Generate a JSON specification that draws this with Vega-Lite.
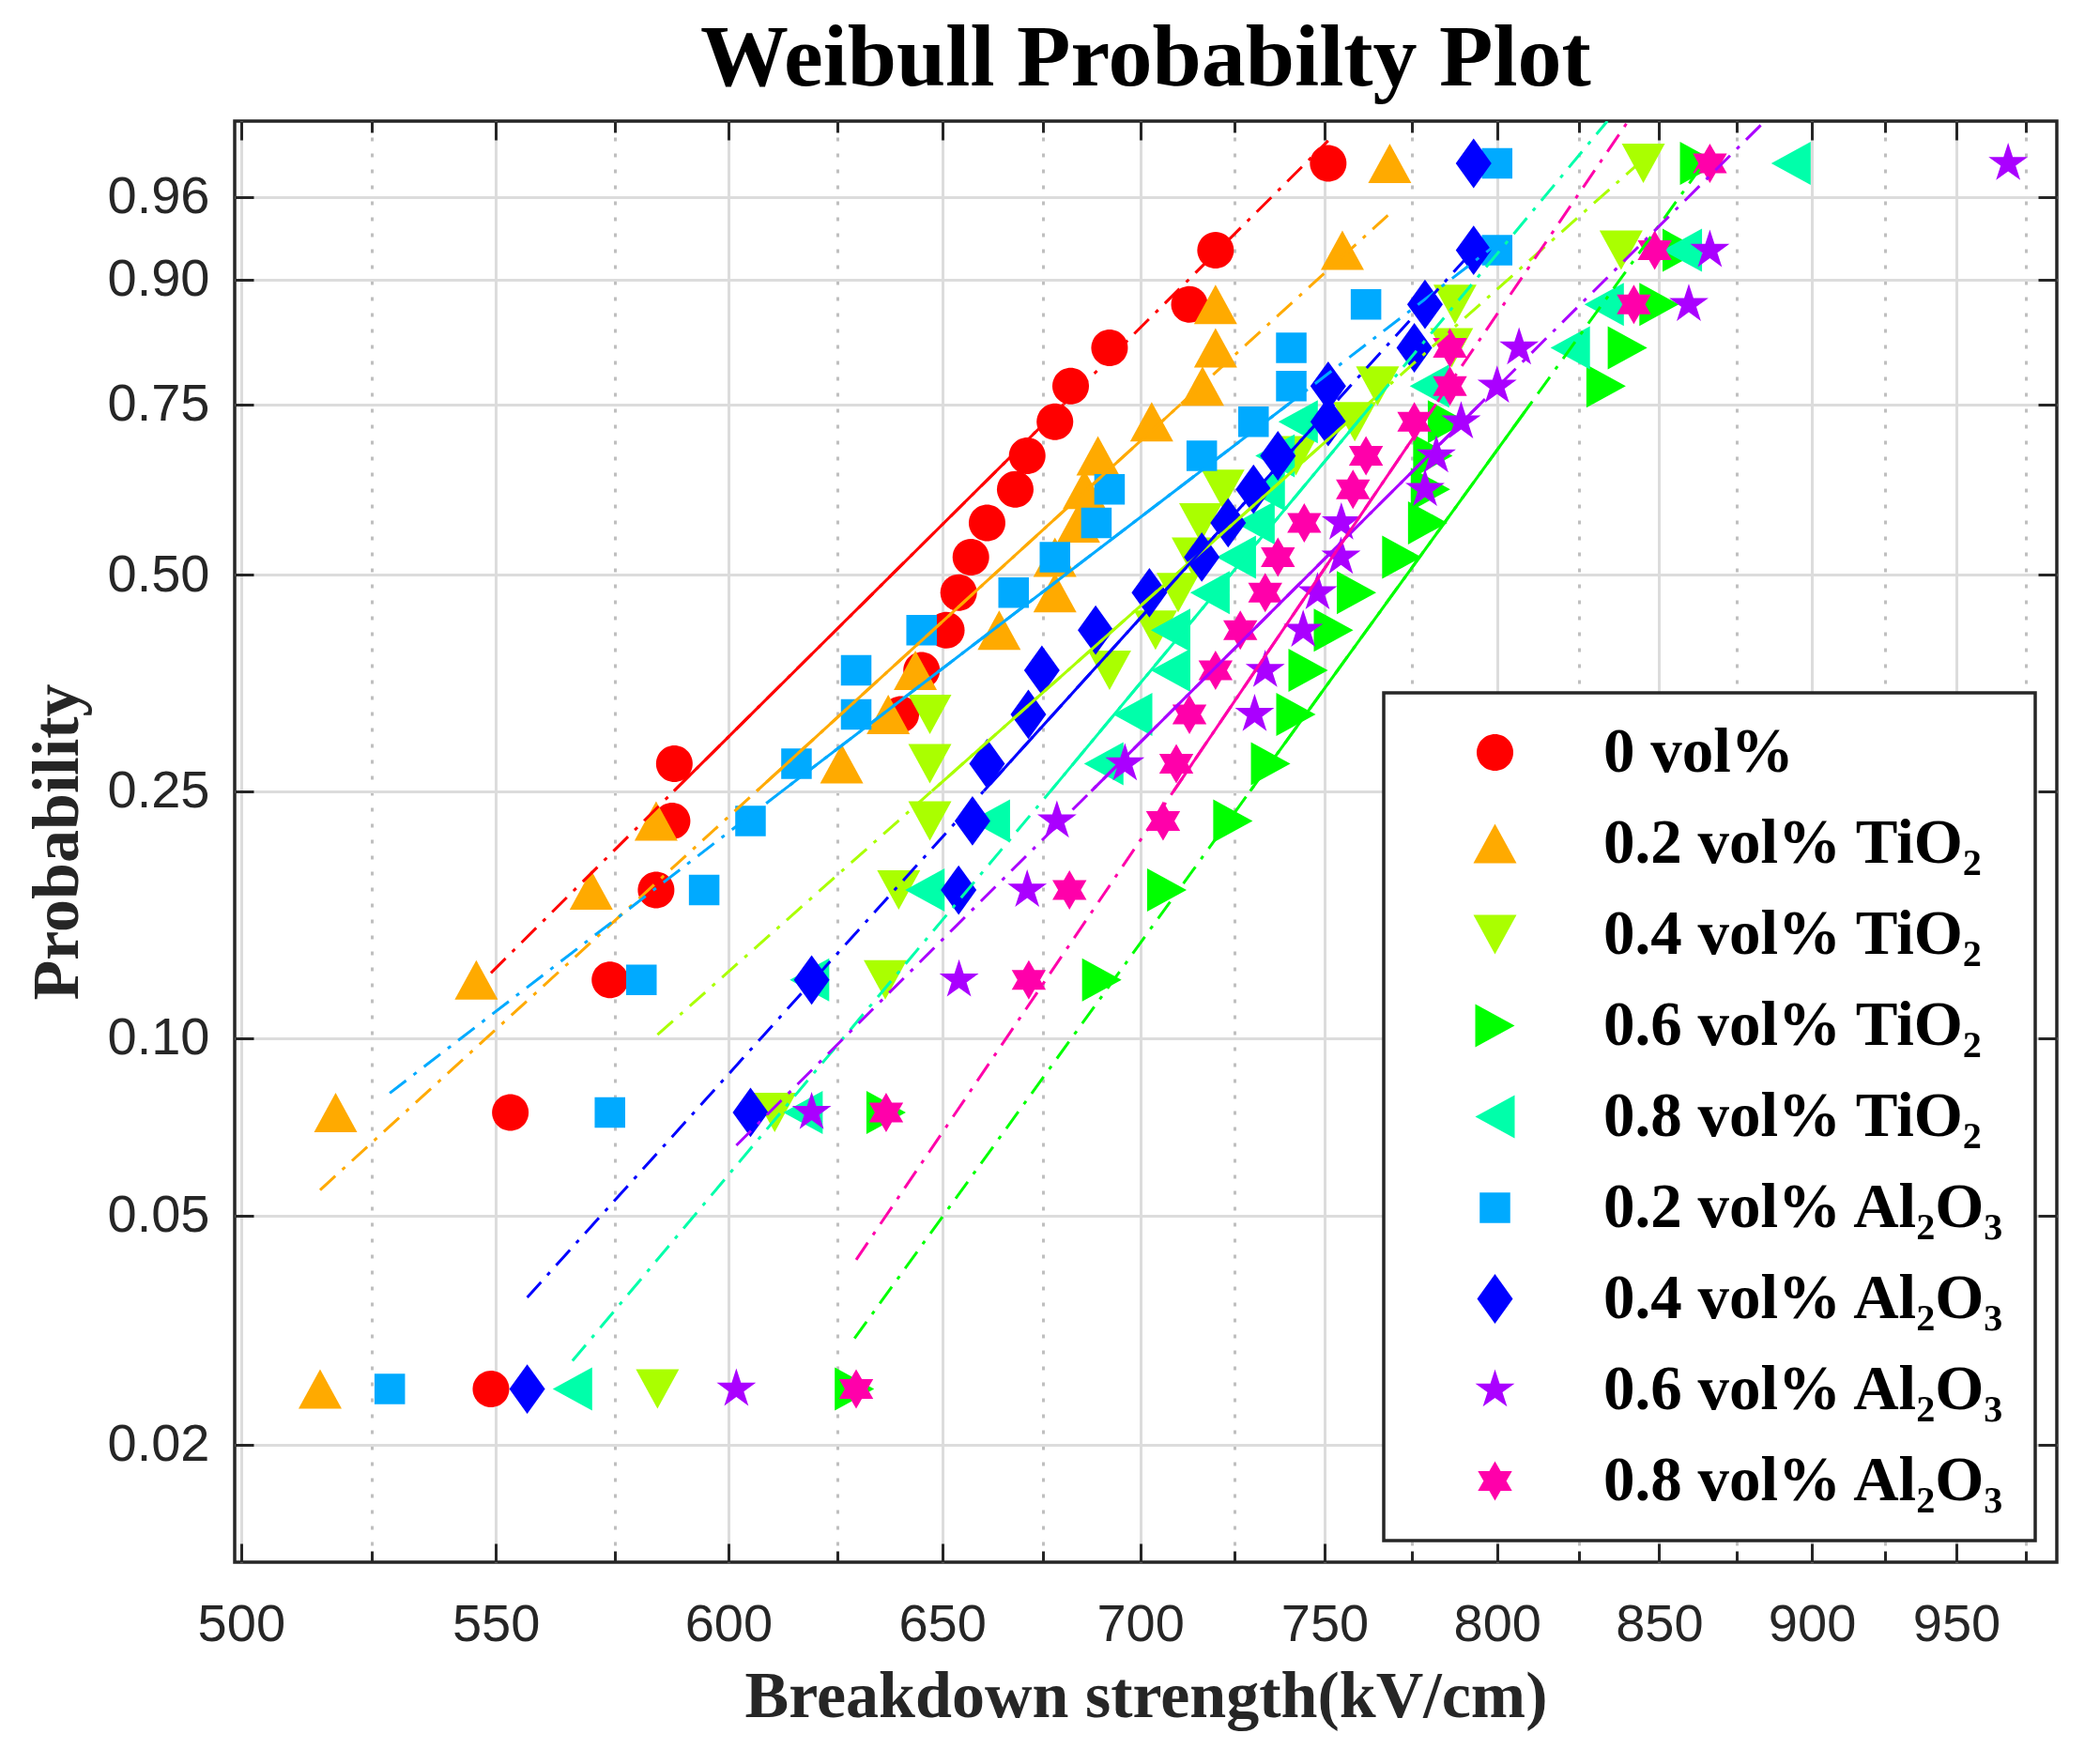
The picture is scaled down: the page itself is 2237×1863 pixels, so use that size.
{
  "$schema": "https://vega.github.io/schema/vega-lite/v6.json",
  "autosize": {"type": "none"},
  "padding": {"left": 250, "top": 129, "right": 46, "bottom": 199},
  "width": 1941,
  "height": 1535,
  "background": "white",
  "title": {
    "text": "Weibull Probabilty Plot",
    "font": "Liberation Serif",
    "fontSize": 94,
    "fontWeight": "bold",
    "color": "black",
    "anchor": "middle",
    "baseline": "alphabetic",
    "offset": 40,
    "dy": 97
  },
  "config": {
    "view": {"stroke": "#262626", "strokeWidth": 3.5},
    "legend": {
      "orient": "bottom-right",
      "offset": 23,
      "padding": 30,
      "strokeColor": "#262626",
      "strokeWidth": 3.5,
      "fillColor": "white",
      "cornerRadius": 0,
      "labelFont": "Liberation Serif",
      "labelFontSize": 67,
      "labelFontWeight": "bold",
      "labelColor": "black",
      "labelLimit": 0,
      "labelOffset": 82,
      "symbolOffset": 55,
      "rowPadding": 29,
      "symbolSize": 1936,
      "symbolStrokeWidth": 0
    }
  },
  "datasets": {
    "pts": [
      {"sample": "0 vol%", "kv": 549, "prob": 0.025},
      {"sample": "0 vol%", "kv": 553, "prob": 0.075},
      {"sample": "0 vol%", "kv": 574, "prob": 0.125},
      {"sample": "0 vol%", "kv": 584, "prob": 0.175},
      {"sample": "0 vol%", "kv": 587.5, "prob": 0.225},
      {"sample": "0 vol%", "kv": 588, "prob": 0.275},
      {"sample": "0 vol%", "kv": 640, "prob": 0.325},
      {"sample": "0 vol%", "kv": 645, "prob": 0.375},
      {"sample": "0 vol%", "kv": 651, "prob": 0.425},
      {"sample": "0 vol%", "kv": 654, "prob": 0.475},
      {"sample": "0 vol%", "kv": 657, "prob": 0.525},
      {"sample": "0 vol%", "kv": 661, "prob": 0.575},
      {"sample": "0 vol%", "kv": 668, "prob": 0.625},
      {"sample": "0 vol%", "kv": 671, "prob": 0.675},
      {"sample": "0 vol%", "kv": 678, "prob": 0.725},
      {"sample": "0 vol%", "kv": 682, "prob": 0.775},
      {"sample": "0 vol%", "kv": 692, "prob": 0.825},
      {"sample": "0 vol%", "kv": 713, "prob": 0.875},
      {"sample": "0 vol%", "kv": 720, "prob": 0.925},
      {"sample": "0 vol%", "kv": 751, "prob": 0.975},
      {"sample": "0.2 vol% TiO₂", "kv": 515, "prob": 0.025},
      {"sample": "0.2 vol% TiO₂", "kv": 518, "prob": 0.075},
      {"sample": "0.2 vol% TiO₂", "kv": 546, "prob": 0.125},
      {"sample": "0.2 vol% TiO₂", "kv": 570, "prob": 0.175},
      {"sample": "0.2 vol% TiO₂", "kv": 584, "prob": 0.225},
      {"sample": "0.2 vol% TiO₂", "kv": 626, "prob": 0.275},
      {"sample": "0.2 vol% TiO₂", "kv": 637, "prob": 0.325},
      {"sample": "0.2 vol% TiO₂", "kv": 643.5, "prob": 0.375},
      {"sample": "0.2 vol% TiO₂", "kv": 664, "prob": 0.425},
      {"sample": "0.2 vol% TiO₂", "kv": 678, "prob": 0.475},
      {"sample": "0.2 vol% TiO₂", "kv": 678, "prob": 0.525},
      {"sample": "0.2 vol% TiO₂", "kv": 684, "prob": 0.575},
      {"sample": "0.2 vol% TiO₂", "kv": 685.5, "prob": 0.625},
      {"sample": "0.2 vol% TiO₂", "kv": 689, "prob": 0.675},
      {"sample": "0.2 vol% TiO₂", "kv": 703, "prob": 0.725},
      {"sample": "0.2 vol% TiO₂", "kv": 716.5, "prob": 0.775},
      {"sample": "0.2 vol% TiO₂", "kv": 720, "prob": 0.825},
      {"sample": "0.2 vol% TiO₂", "kv": 720, "prob": 0.875},
      {"sample": "0.2 vol% TiO₂", "kv": 755, "prob": 0.925},
      {"sample": "0.2 vol% TiO₂", "kv": 768.5, "prob": 0.975},
      {"sample": "0.4 vol% TiO₂", "kv": 584.3, "prob": 0.025},
      {"sample": "0.4 vol% TiO₂", "kv": 610.5, "prob": 0.075},
      {"sample": "0.4 vol% TiO₂", "kv": 636.3, "prob": 0.125},
      {"sample": "0.4 vol% TiO₂", "kv": 639.5, "prob": 0.175},
      {"sample": "0.4 vol% TiO₂", "kv": 647, "prob": 0.225},
      {"sample": "0.4 vol% TiO₂", "kv": 647, "prob": 0.275},
      {"sample": "0.4 vol% TiO₂", "kv": 647, "prob": 0.325},
      {"sample": "0.4 vol% TiO₂", "kv": 692, "prob": 0.375},
      {"sample": "0.4 vol% TiO₂", "kv": 704, "prob": 0.425},
      {"sample": "0.4 vol% TiO₂", "kv": 710, "prob": 0.475},
      {"sample": "0.4 vol% TiO₂", "kv": 714, "prob": 0.525},
      {"sample": "0.4 vol% TiO₂", "kv": 716, "prob": 0.575},
      {"sample": "0.4 vol% TiO₂", "kv": 722, "prob": 0.625},
      {"sample": "0.4 vol% TiO₂", "kv": 742, "prob": 0.675},
      {"sample": "0.4 vol% TiO₂", "kv": 758.5, "prob": 0.725},
      {"sample": "0.4 vol% TiO₂", "kv": 765, "prob": 0.775},
      {"sample": "0.4 vol% TiO₂", "kv": 786.5, "prob": 0.825},
      {"sample": "0.4 vol% TiO₂", "kv": 787.5, "prob": 0.875},
      {"sample": "0.4 vol% TiO₂", "kv": 838, "prob": 0.925},
      {"sample": "0.4 vol% TiO₂", "kv": 845, "prob": 0.975},
      {"sample": "0.6 vol% TiO₂", "kv": 629, "prob": 0.025},
      {"sample": "0.6 vol% TiO₂", "kv": 636.5, "prob": 0.075},
      {"sample": "0.6 vol% TiO₂", "kv": 690, "prob": 0.125},
      {"sample": "0.6 vol% TiO₂", "kv": 707, "prob": 0.175},
      {"sample": "0.6 vol% TiO₂", "kv": 724.7, "prob": 0.225},
      {"sample": "0.6 vol% TiO₂", "kv": 735, "prob": 0.275},
      {"sample": "0.6 vol% TiO₂", "kv": 742, "prob": 0.325},
      {"sample": "0.6 vol% TiO₂", "kv": 745.4, "prob": 0.375},
      {"sample": "0.6 vol% TiO₂", "kv": 752.5, "prob": 0.425},
      {"sample": "0.6 vol% TiO₂", "kv": 759, "prob": 0.475},
      {"sample": "0.6 vol% TiO₂", "kv": 772, "prob": 0.525},
      {"sample": "0.6 vol% TiO₂", "kv": 779.5, "prob": 0.575},
      {"sample": "0.6 vol% TiO₂", "kv": 780.3, "prob": 0.625},
      {"sample": "0.6 vol% TiO₂", "kv": 781, "prob": 0.675},
      {"sample": "0.6 vol% TiO₂", "kv": 785.3, "prob": 0.725},
      {"sample": "0.6 vol% TiO₂", "kv": 833.3, "prob": 0.775},
      {"sample": "0.6 vol% TiO₂", "kv": 840, "prob": 0.825},
      {"sample": "0.6 vol% TiO₂", "kv": 850, "prob": 0.875},
      {"sample": "0.6 vol% TiO₂", "kv": 857.4, "prob": 0.925},
      {"sample": "0.6 vol% TiO₂", "kv": 863, "prob": 0.975},
      {"sample": "0.8 vol% TiO₂", "kv": 566, "prob": 0.025},
      {"sample": "0.8 vol% TiO₂", "kv": 617, "prob": 0.075},
      {"sample": "0.8 vol% TiO₂", "kv": 618.5, "prob": 0.125},
      {"sample": "0.8 vol% TiO₂", "kv": 645.8, "prob": 0.175},
      {"sample": "0.8 vol% TiO₂", "kv": 661.8, "prob": 0.225},
      {"sample": "0.8 vol% TiO₂", "kv": 690.5, "prob": 0.275},
      {"sample": "0.8 vol% TiO₂", "kv": 698, "prob": 0.325},
      {"sample": "0.8 vol% TiO₂", "kv": 708, "prob": 0.375},
      {"sample": "0.8 vol% TiO₂", "kv": 708, "prob": 0.425},
      {"sample": "0.8 vol% TiO₂", "kv": 718.5, "prob": 0.475},
      {"sample": "0.8 vol% TiO₂", "kv": 725.6, "prob": 0.525},
      {"sample": "0.8 vol% TiO₂", "kv": 730.7, "prob": 0.575},
      {"sample": "0.8 vol% TiO₂", "kv": 733.5, "prob": 0.625},
      {"sample": "0.8 vol% TiO₂", "kv": 736.2, "prob": 0.675},
      {"sample": "0.8 vol% TiO₂", "kv": 742.6, "prob": 0.725},
      {"sample": "0.8 vol% TiO₂", "kv": 780, "prob": 0.775},
      {"sample": "0.8 vol% TiO₂", "kv": 822.2, "prob": 0.825},
      {"sample": "0.8 vol% TiO₂", "kv": 832.7, "prob": 0.875},
      {"sample": "0.8 vol% TiO₂", "kv": 857.4, "prob": 0.925},
      {"sample": "0.8 vol% TiO₂", "kv": 893, "prob": 0.975},
      {"sample": "0.2 vol% Al₂O₃", "kv": 528.6, "prob": 0.025},
      {"sample": "0.2 vol% Al₂O₃", "kv": 574, "prob": 0.075},
      {"sample": "0.2 vol% Al₂O₃", "kv": 580.8, "prob": 0.125},
      {"sample": "0.2 vol% Al₂O₃", "kv": 594.6, "prob": 0.175},
      {"sample": "0.2 vol% Al₂O₃", "kv": 605, "prob": 0.225},
      {"sample": "0.2 vol% Al₂O₃", "kv": 615.5, "prob": 0.275},
      {"sample": "0.2 vol% Al₂O₃", "kv": 629.4, "prob": 0.325},
      {"sample": "0.2 vol% Al₂O₃", "kv": 629.4, "prob": 0.375},
      {"sample": "0.2 vol% Al₂O₃", "kv": 645, "prob": 0.425},
      {"sample": "0.2 vol% Al₂O₃", "kv": 667.6, "prob": 0.475},
      {"sample": "0.2 vol% Al₂O₃", "kv": 678, "prob": 0.525},
      {"sample": "0.2 vol% Al₂O₃", "kv": 688.6, "prob": 0.575},
      {"sample": "0.2 vol% Al₂O₃", "kv": 692, "prob": 0.625},
      {"sample": "0.2 vol% Al₂O₃", "kv": 716.3, "prob": 0.675},
      {"sample": "0.2 vol% Al₂O₃", "kv": 730.3, "prob": 0.725},
      {"sample": "0.2 vol% Al₂O₃", "kv": 740.7, "prob": 0.775},
      {"sample": "0.2 vol% Al₂O₃", "kv": 740.7, "prob": 0.825},
      {"sample": "0.2 vol% Al₂O₃", "kv": 761.7, "prob": 0.875},
      {"sample": "0.2 vol% Al₂O₃", "kv": 800, "prob": 0.925},
      {"sample": "0.2 vol% Al₂O₃", "kv": 800, "prob": 0.975},
      {"sample": "0.4 vol% Al₂O₃", "kv": 556.5, "prob": 0.025},
      {"sample": "0.4 vol% Al₂O₃", "kv": 605, "prob": 0.075},
      {"sample": "0.4 vol% Al₂O₃", "kv": 619, "prob": 0.125},
      {"sample": "0.4 vol% Al₂O₃", "kv": 654, "prob": 0.175},
      {"sample": "0.4 vol% Al₂O₃", "kv": 657.4, "prob": 0.225},
      {"sample": "0.4 vol% Al₂O₃", "kv": 661, "prob": 0.275},
      {"sample": "0.4 vol% Al₂O₃", "kv": 671.3, "prob": 0.325},
      {"sample": "0.4 vol% Al₂O₃", "kv": 674.7, "prob": 0.375},
      {"sample": "0.4 vol% Al₂O₃", "kv": 688.4, "prob": 0.425},
      {"sample": "0.4 vol% Al₂O₃", "kv": 702.4, "prob": 0.475},
      {"sample": "0.4 vol% Al₂O₃", "kv": 716.3, "prob": 0.525},
      {"sample": "0.4 vol% Al₂O₃", "kv": 723.4, "prob": 0.575},
      {"sample": "0.4 vol% Al₂O₃", "kv": 730.3, "prob": 0.625},
      {"sample": "0.4 vol% Al₂O₃", "kv": 737, "prob": 0.675},
      {"sample": "0.4 vol% Al₂O₃", "kv": 751, "prob": 0.725},
      {"sample": "0.4 vol% Al₂O₃", "kv": 751, "prob": 0.775},
      {"sample": "0.4 vol% Al₂O₃", "kv": 775.6, "prob": 0.825},
      {"sample": "0.4 vol% Al₂O₃", "kv": 778.7, "prob": 0.875},
      {"sample": "0.4 vol% Al₂O₃", "kv": 793, "prob": 0.925},
      {"sample": "0.4 vol% Al₂O₃", "kv": 793, "prob": 0.975},
      {"sample": "0.6 vol% Al₂O₃", "kv": 601.8, "prob": 0.025},
      {"sample": "0.6 vol% Al₂O₃", "kv": 619, "prob": 0.075},
      {"sample": "0.6 vol% Al₂O₃", "kv": 654.1, "prob": 0.125},
      {"sample": "0.6 vol% Al₂O₃", "kv": 671, "prob": 0.175},
      {"sample": "0.6 vol% Al₂O₃", "kv": 678.5, "prob": 0.225},
      {"sample": "0.6 vol% Al₂O₃", "kv": 696, "prob": 0.275},
      {"sample": "0.6 vol% Al₂O₃", "kv": 730.6, "prob": 0.325},
      {"sample": "0.6 vol% Al₂O₃", "kv": 733.5, "prob": 0.375},
      {"sample": "0.6 vol% Al₂O₃", "kv": 744, "prob": 0.425},
      {"sample": "0.6 vol% Al₂O₃", "kv": 748, "prob": 0.475},
      {"sample": "0.6 vol% Al₂O₃", "kv": 754.6, "prob": 0.525},
      {"sample": "0.6 vol% Al₂O₃", "kv": 754.7, "prob": 0.575},
      {"sample": "0.6 vol% Al₂O₃", "kv": 778.7, "prob": 0.625},
      {"sample": "0.6 vol% Al₂O₃", "kv": 782, "prob": 0.675},
      {"sample": "0.6 vol% Al₂O₃", "kv": 789.3, "prob": 0.725},
      {"sample": "0.6 vol% Al₂O₃", "kv": 800, "prob": 0.775},
      {"sample": "0.6 vol% Al₂O₃", "kv": 806.6, "prob": 0.825},
      {"sample": "0.6 vol% Al₂O₃", "kv": 859.5, "prob": 0.875},
      {"sample": "0.6 vol% Al₂O₃", "kv": 866.3, "prob": 0.925},
      {"sample": "0.6 vol% Al₂O₃", "kv": 968.6, "prob": 0.975},
      {"sample": "0.8 vol% Al₂O₃", "kv": 629.4, "prob": 0.025},
      {"sample": "0.8 vol% Al₂O₃", "kv": 636.5, "prob": 0.075},
      {"sample": "0.8 vol% Al₂O₃", "kv": 671.4, "prob": 0.125},
      {"sample": "0.8 vol% Al₂O₃", "kv": 681.7, "prob": 0.175},
      {"sample": "0.8 vol% Al₂O₃", "kv": 706, "prob": 0.225},
      {"sample": "0.8 vol% Al₂O₃", "kv": 709.5, "prob": 0.275},
      {"sample": "0.8 vol% Al₂O₃", "kv": 713, "prob": 0.325},
      {"sample": "0.8 vol% Al₂O₃", "kv": 720, "prob": 0.375},
      {"sample": "0.8 vol% Al₂O₃", "kv": 726.7, "prob": 0.425},
      {"sample": "0.8 vol% Al₂O₃", "kv": 733.5, "prob": 0.475},
      {"sample": "0.8 vol% Al₂O₃", "kv": 737, "prob": 0.525},
      {"sample": "0.8 vol% Al₂O₃", "kv": 744.3, "prob": 0.575},
      {"sample": "0.8 vol% Al₂O₃", "kv": 758, "prob": 0.625},
      {"sample": "0.8 vol% Al₂O₃", "kv": 761.7, "prob": 0.675},
      {"sample": "0.8 vol% Al₂O₃", "kv": 775.6, "prob": 0.725},
      {"sample": "0.8 vol% Al₂O₃", "kv": 786, "prob": 0.775},
      {"sample": "0.8 vol% Al₂O₃", "kv": 786, "prob": 0.825},
      {"sample": "0.8 vol% Al₂O₃", "kv": 842, "prob": 0.875},
      {"sample": "0.8 vol% Al₂O₃", "kv": 848.6, "prob": 0.925},
      {"sample": "0.8 vol% Al₂O₃", "kv": 866.3, "prob": 0.975}
    ],
    "fit": [
      {"sample": "0 vol%", "part": "min", "kv": 549, "prob": 0.1286},
      {"sample": "0 vol%", "part": "q1", "kv": 587.9, "prob": 0.25},
      {"sample": "0 vol%", "part": "q3", "kv": 680.2, "prob": 0.75},
      {"sample": "0 vol%", "part": "max", "kv": 751, "prob": 0.9822},
      {"sample": "0.2 vol% TiO₂", "part": "min", "kv": 515, "prob": 0.0555},
      {"sample": "0.2 vol% TiO₂", "part": "q1", "kv": 606.4, "prob": 0.25},
      {"sample": "0.2 vol% TiO₂", "part": "q3", "kv": 710.7, "prob": 0.75},
      {"sample": "0.2 vol% TiO₂", "part": "max", "kv": 768.5, "prob": 0.9505},
      {"sample": "0.4 vol% TiO₂", "part": "min", "kv": 584.3, "prob": 0.1015},
      {"sample": "0.4 vol% TiO₂", "part": "q1", "kv": 647.5, "prob": 0.25},
      {"sample": "0.4 vol% TiO₂", "part": "q3", "kv": 762.2, "prob": 0.75},
      {"sample": "0.4 vol% TiO₂", "part": "max", "kv": 845, "prob": 0.9764},
      {"sample": "0.6 vol% TiO₂", "part": "min", "kv": 629, "prob": 0.0307},
      {"sample": "0.6 vol% TiO₂", "part": "q1", "kv": 729.4, "prob": 0.25},
      {"sample": "0.6 vol% TiO₂", "part": "q3", "kv": 810, "prob": 0.75},
      {"sample": "0.6 vol% TiO₂", "part": "max", "kv": 862.9, "prob": 0.9723},
      {"sample": "0.8 vol% TiO₂", "part": "min", "kv": 566, "prob": 0.0281},
      {"sample": "0.8 vol% TiO₂", "part": "q1", "kv": 676.9, "prob": 0.25},
      {"sample": "0.8 vol% TiO₂", "part": "q3", "kv": 763.5, "prob": 0.75},
      {"sample": "0.8 vol% TiO₂", "part": "max", "kv": 833.7, "prob": 0.98747},
      {"sample": "0.2 vol% Al₂O₃", "part": "min", "kv": 528.6, "prob": 0.0815},
      {"sample": "0.2 vol% Al₂O₃", "part": "q1", "kv": 612.2, "prob": 0.25},
      {"sample": "0.2 vol% Al₂O₃", "part": "q3", "kv": 739.9, "prob": 0.75},
      {"sample": "0.2 vol% Al₂O₃", "part": "max", "kv": 800, "prob": 0.9295},
      {"sample": "0.4 vol% Al₂O₃", "part": "min", "kv": 556.5, "prob": 0.0364},
      {"sample": "0.4 vol% Al₂O₃", "part": "q1", "kv": 660.2, "prob": 0.25},
      {"sample": "0.4 vol% Al₂O₃", "part": "q3", "kv": 752.6, "prob": 0.75},
      {"sample": "0.4 vol% Al₂O₃", "part": "max", "kv": 793, "prob": 0.9252},
      {"sample": "0.6 vol% Al₂O₃", "part": "min", "kv": 601.8, "prob": 0.0663},
      {"sample": "0.6 vol% Al₂O₃", "part": "q1", "kv": 687.3, "prob": 0.25},
      {"sample": "0.6 vol% Al₂O₃", "part": "q3", "kv": 794.9, "prob": 0.75},
      {"sample": "0.6 vol% Al₂O₃", "part": "max", "kv": 884.3, "prob": 0.98747},
      {"sample": "0.8 vol% Al₂O₃", "part": "min", "kv": 629.4, "prob": 0.0421},
      {"sample": "0.8 vol% Al₂O₃", "part": "q1", "kv": 708.8, "prob": 0.25},
      {"sample": "0.8 vol% Al₂O₃", "part": "q3", "kv": 781.9, "prob": 0.75},
      {"sample": "0.8 vol% Al₂O₃", "part": "max", "kv": 840.2, "prob": 0.98747}
    ]
  },
  "layer": [
    {
      "data": {"name": "pts"},
      "mark": {"type": "point", "filled": true, "opacity": 1, "strokeWidth": 0, "size": 1936},
      "encoding": {
        "x": {
          "field": "kv",
          "type": "quantitative",
          "scale": {"type": "log", "domain": [498.8, 986.4], "nice": false},
          "axis": {
            "orient": "bottom",
            "values": [500, 525, 550, 575, 600, 625, 650, 675, 700, 725, 750, 775, 800, 825, 850, 875, 900, 925, 950, 975],
            "format": "d",
            "labelExpr": "datum.value % 50 === 0 ? datum.label : ''",
            "ticks": false,
            "domain": false,
            "grid": true,
            "gridWidth": 3,
            "gridColor": {"condition": {"test": "datum.value % 50 !== 0", "value": "#bfbfbf"}, "value": "#dcdcdc"},
            "gridDash": {"condition": {"test": "datum.value % 50 !== 0", "value": [4, 13]}, "value": []},
            "labelFont": "Liberation Sans",
            "labelFontSize": 56,
            "labelColor": "#262626",
            "labelBaseline": "alphabetic",
            "labelPadding": 83,
            "labelFlush": false,
            "labelOverlap": false,
            "title": "Breakdown strength(kV/cm)",
            "titleFont": "Liberation Serif",
            "titleFontSize": 70,
            "titleFontWeight": "bold",
            "titleColor": "#262626",
            "titleBaseline": "alphabetic",
            "titleY": 164
          }
        },
        "y": {
          "field": "prob",
          "type": "quantitative",
          "scale": {
            "type": "linear",
            "nice": false,
            "zero": false,
            "domain": [0.01245, 0.015, 0.02, 0.025, 0.03, 0.04, 0.05, 0.06, 0.075, 0.1, 0.125, 0.15, 0.175, 0.2, 0.225, 0.25, 0.275, 0.3, 0.325, 0.35, 0.375, 0.4, 0.425, 0.45, 0.475, 0.5, 0.525, 0.55, 0.575, 0.6, 0.625, 0.65, 0.675, 0.7, 0.725, 0.75, 0.775, 0.8, 0.825, 0.85, 0.875, 0.9, 0.925, 0.95, 0.96, 0.975, 0.98, 0.98747],
            "range": [1535, 1485.8, 1409.8, 1350.6, 1302.1, 1225.4, 1165.6, 1116.4, 1055.9, 976.9, 914.8, 863.3, 819.1, 780.2, 745.4, 713.6, 684.5, 657.3, 631.9, 607.8, 585.0, 563.2, 542.2, 522.0, 502.3, 483.2, 464.4, 446.1, 427.9, 410.0, 392.2, 374.3, 356.5, 338.5, 320.2, 301.5, 282.3, 262.4, 241.5, 219.3, 195.2, 168.5, 137.6, 99.5, 80.7, 45.0, 29.6, 0]
          },
          "axis": {
            "orient": "left",
            "values": [0.02, 0.05, 0.1, 0.25, 0.5, 0.75, 0.9, 0.96],
            "format": ".2f",
            "ticks": false,
            "domain": false,
            "grid": true,
            "gridWidth": 3,
            "gridColor": "#dcdcdc",
            "labelFont": "Liberation Sans",
            "labelFontSize": 56,
            "labelColor": "#262626",
            "labelPadding": 27,
            "labelFlush": false,
            "labelOverlap": false,
            "title": "Probability",
            "titleFont": "Liberation Serif",
            "titleFontSize": 70,
            "titleFontWeight": "bold",
            "titleColor": "#262626",
            "titleBaseline": "alphabetic",
            "titleX": -168
          }
        },
        "color": {
          "field": "sample",
          "type": "nominal",
          "scale": {
            "domain": ["0 vol%", "0.2 vol% TiO₂", "0.4 vol% TiO₂", "0.6 vol% TiO₂", "0.8 vol% TiO₂", "0.2 vol% Al₂O₃", "0.4 vol% Al₂O₃", "0.6 vol% Al₂O₃", "0.8 vol% Al₂O₃"],
            "range": ["#ff0000", "#ffaa00", "#aaff00", "#00ff00", "#00ffaa", "#00aaff", "#0000ff", "#aa00ff", "#ff00aa"]
          },
          "legend": {"title": null}
        },
        "shape": {
          "field": "sample",
          "type": "nominal",
          "scale": {
            "domain": ["0 vol%", "0.2 vol% TiO₂", "0.4 vol% TiO₂", "0.6 vol% TiO₂", "0.8 vol% TiO₂", "0.2 vol% Al₂O₃", "0.4 vol% Al₂O₃", "0.6 vol% Al₂O₃", "0.8 vol% Al₂O₃"],
            "range": [
              "M0.886,0A0.886,0.886,0,1,1,-0.886,0A0.886,0.886,0,1,1,0.886,0Z",
              "M0,-0.955L1.045,0.955L-1.045,0.955Z",
              "M0,0.955L1.045,-0.955L-1.045,-0.955Z",
              "M0.955,0L-0.955,1.045L-0.955,-1.045Z",
              "M-0.955,0L0.955,1.045L0.955,-1.045Z",
              "M-0.739,-0.739L0.739,-0.739L0.739,0.739L-0.739,0.739Z",
              "M0,-1.2L0.864,0L0,1.2L-0.864,0Z",
              "M0,-1L0.2245,-0.309L0.9511,-0.309L0.3633,0.118L0.5878,0.809L0,0.382L-0.5878,0.809L-0.3633,0.118L-0.9511,-0.309L-0.2245,-0.309Z",
              "M0,-0.955L0.2757,-0.4775L0.827,-0.4775L0.5514,0L0.827,0.4775L0.2757,0.4775L0,0.955L-0.2757,0.4775L-0.827,0.4775L-0.5514,0L-0.827,-0.4775L-0.2757,-0.4775Z"
            ]
          },
          "legend": {"title": null}
        }
      }
    },
    {
      "data": {"name": "fit"},
      "mark": {"type": "line", "strokeWidth": 3, "strokeDash": [22, 10, 4, 10], "clip": true},
      "encoding": {
        "x": {
          "field": "kv",
          "type": "quantitative",
          "scale": {"type": "log", "domain": [498.8, 986.4], "nice": false},
          "axis": {
            "orient": "bottom",
            "values": [500, 525, 550, 575, 600, 625, 650, 675, 700, 725, 750, 775, 800, 825, 850, 875, 900, 925, 950, 975],
            "labels": false,
            "grid": false,
            "domain": false,
            "ticks": true,
            "tickSize": {"condition": {"test": "datum.value % 50 !== 0", "value": -12}, "value": -20},
            "tickColor": "#262626",
            "tickWidth": 3,
            "title": null
          }
        },
        "y": {
          "field": "prob",
          "type": "quantitative",
          "scale": {
            "type": "linear",
            "nice": false,
            "zero": false,
            "domain": [0.01245, 0.015, 0.02, 0.025, 0.03, 0.04, 0.05, 0.06, 0.075, 0.1, 0.125, 0.15, 0.175, 0.2, 0.225, 0.25, 0.275, 0.3, 0.325, 0.35, 0.375, 0.4, 0.425, 0.45, 0.475, 0.5, 0.525, 0.55, 0.575, 0.6, 0.625, 0.65, 0.675, 0.7, 0.725, 0.75, 0.775, 0.8, 0.825, 0.85, 0.875, 0.9, 0.925, 0.95, 0.96, 0.975, 0.98, 0.98747],
            "range": [1535, 1485.8, 1409.8, 1350.6, 1302.1, 1225.4, 1165.6, 1116.4, 1055.9, 976.9, 914.8, 863.3, 819.1, 780.2, 745.4, 713.6, 684.5, 657.3, 631.9, 607.8, 585.0, 563.2, 542.2, 522.0, 502.3, 483.2, 464.4, 446.1, 427.9, 410.0, 392.2, 374.3, 356.5, 338.5, 320.2, 301.5, 282.3, 262.4, 241.5, 219.3, 195.2, 168.5, 137.6, 99.5, 80.7, 45.0, 29.6, 0]
          },
          "axis": {
            "orient": "left",
            "values": [0.02, 0.05, 0.1, 0.25, 0.5, 0.75, 0.9, 0.96],
            "labels": false,
            "grid": false,
            "domain": false,
            "ticks": true,
            "tickSize": -20,
            "tickColor": "#262626",
            "tickWidth": 3,
            "title": null
          }
        },
        "stroke": {
          "field": "sample",
          "type": "nominal",
          "scale": {
            "domain": ["0 vol%", "0.2 vol% TiO₂", "0.4 vol% TiO₂", "0.6 vol% TiO₂", "0.8 vol% TiO₂", "0.2 vol% Al₂O₃", "0.4 vol% Al₂O₃", "0.6 vol% Al₂O₃", "0.8 vol% Al₂O₃"],
            "range": ["#ff0000", "#ffaa00", "#aaff00", "#00ff00", "#00ffaa", "#00aaff", "#0000ff", "#aa00ff", "#ff00aa"]
          },
          "legend": null
        },
        "order": {"field": "kv", "type": "quantitative"}
      }
    },
    {
      "data": {"name": "fit"},
      "transform": [{"filter": {"field": "part", "oneOf": ["q1", "q3"]}}],
      "mark": {"type": "line", "strokeWidth": 3, "clip": true},
      "encoding": {
        "x": {
          "field": "kv",
          "type": "quantitative",
          "scale": {"type": "log", "domain": [498.8, 986.4], "nice": false},
          "axis": {
            "orient": "top",
            "values": [500, 525, 550, 575, 600, 625, 650, 675, 700, 725, 750, 775, 800, 825, 850, 875, 900, 925, 950, 975],
            "labels": false,
            "grid": false,
            "domain": false,
            "ticks": true,
            "tickSize": {"condition": {"test": "datum.value % 50 !== 0", "value": -12}, "value": -20},
            "tickColor": "#262626",
            "tickWidth": 3,
            "title": null
          }
        },
        "y": {
          "field": "prob",
          "type": "quantitative",
          "scale": {
            "type": "linear",
            "nice": false,
            "zero": false,
            "domain": [0.01245, 0.015, 0.02, 0.025, 0.03, 0.04, 0.05, 0.06, 0.075, 0.1, 0.125, 0.15, 0.175, 0.2, 0.225, 0.25, 0.275, 0.3, 0.325, 0.35, 0.375, 0.4, 0.425, 0.45, 0.475, 0.5, 0.525, 0.55, 0.575, 0.6, 0.625, 0.65, 0.675, 0.7, 0.725, 0.75, 0.775, 0.8, 0.825, 0.85, 0.875, 0.9, 0.925, 0.95, 0.96, 0.975, 0.98, 0.98747],
            "range": [1535, 1485.8, 1409.8, 1350.6, 1302.1, 1225.4, 1165.6, 1116.4, 1055.9, 976.9, 914.8, 863.3, 819.1, 780.2, 745.4, 713.6, 684.5, 657.3, 631.9, 607.8, 585.0, 563.2, 542.2, 522.0, 502.3, 483.2, 464.4, 446.1, 427.9, 410.0, 392.2, 374.3, 356.5, 338.5, 320.2, 301.5, 282.3, 262.4, 241.5, 219.3, 195.2, 168.5, 137.6, 99.5, 80.7, 45.0, 29.6, 0]
          },
          "axis": {
            "orient": "right",
            "values": [0.02, 0.05, 0.1, 0.25, 0.5, 0.75, 0.9, 0.96],
            "labels": false,
            "grid": false,
            "domain": false,
            "ticks": true,
            "tickSize": -20,
            "tickColor": "#262626",
            "tickWidth": 3,
            "title": null
          }
        },
        "stroke": {
          "field": "sample",
          "type": "nominal",
          "scale": {
            "domain": ["0 vol%", "0.2 vol% TiO₂", "0.4 vol% TiO₂", "0.6 vol% TiO₂", "0.8 vol% TiO₂", "0.2 vol% Al₂O₃", "0.4 vol% Al₂O₃", "0.6 vol% Al₂O₃", "0.8 vol% Al₂O₃"],
            "range": ["#ff0000", "#ffaa00", "#aaff00", "#00ff00", "#00ffaa", "#00aaff", "#0000ff", "#aa00ff", "#ff00aa"]
          },
          "legend": null
        },
        "order": {"field": "kv", "type": "quantitative"}
      }
    }
  ],
  "resolve": {"axis": {"x": "independent", "y": "independent"}}
}
